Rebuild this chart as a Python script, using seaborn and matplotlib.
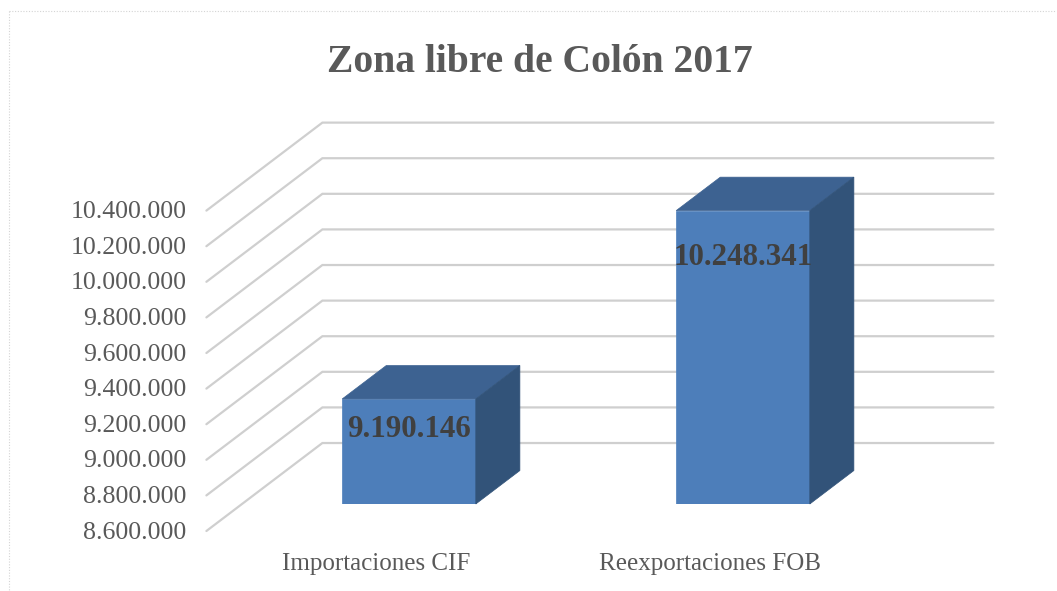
# import libraries
import pandas as pd
import seaborn as sns
import matplotlib.pyplot as plt
from matplotlib.lines import Line2D
from matplotlib.patches import Polygon
from matplotlib.transforms import ScaledTranslation

# Data
categorias = ['Importaciones CIF', 'Reexportaciones FOB']
valores = [9190146, 10248341]
ticks = [8600000, 8800000, 9000000, 9200000, 9400000, 9600000, 9800000, 10000000, 10200000, 10400000]
titulo = 'Zona libre de Colón 2017'

df = pd.DataFrame({'categoria': categorias, 'valor': valores})


def miles(v):
    return f'{v:,}'.replace(',', '.')


W, H = 1057, 591
sns.set_theme(style='white')
plt.rcParams['font.family'] = ['Liberation Serif']

fig = plt.figure(figsize=(W / 100, H / 100), dpi=100)
ax = fig.add_axes([242 / W, 1 - 504 / H, 668 / W, 320.4 / H])

# Front faces of the bars
sns.barplot(data=df, x='categoria', y='valor', color='#4D7EBA', saturation=1,
            width=0.4, ax=ax, zorder=3, edgecolor='#4D7EBA', linewidth=0.5)
ax.set_xlim(-0.5, 1.5)
ax.set_ylim(ticks[0], ticks[-1])
ax.set_xlabel('')
ax.set_ylabel('')
sns.despine(ax=ax, left=True, bottom=True)

# Fake 3D depth: one unit of depth in data units
px_x = 2 / 668
px_y = (ticks[-1] - ticks[0]) / 320.4
depth_x = 116 * px_x
depth_y = 88 * px_y
d_front, d_back = -0.307, 0.693
d_bar = 0.38

# Floor/wall gridlines
for t in ticks:
    xs = [-0.5 + d_front * depth_x, -0.5 + d_back * depth_x, 1.5 + d_back * depth_x + 3 * px_x]
    ys = [t + d_front * depth_y, t + d_back * depth_y, t + d_back * depth_y]
    ax.plot(xs, ys, color='#CFCFCF', lw=1.6, clip_on=False, zorder=1,
            solid_joinstyle='miter')

# Top and side of each bar
for bar, v in zip(ax.patches, valores):
    x0, x1 = bar.get_x(), bar.get_x() + bar.get_width()
    dx, dy = d_bar * depth_x, d_bar * depth_y
    ax.add_patch(Polygon([(x0, v), (x1, v), (x1 + dx, v + dy), (x0 + dx, v + dy)],
                         closed=True, fc='#3D6291', ec='#3D6291', lw=0.5, clip_on=False, zorder=3))
    ax.add_patch(Polygon([(x1, ticks[0]), (x1 + dx, ticks[0] + dy), (x1 + dx, v + dy), (x1, v)],
                         closed=True, fc='#325379', ec='#325379', lw=0.5, clip_on=False, zorder=3))

# Data labels
label_offsets = [-31, -47]
for i, v in enumerate(valores):
    ax.annotate(miles(v), (i, v), xytext=(0, label_offsets[i] * 0.72), textcoords='offset points',
                ha='center', va='center', fontsize=22.3, fontweight='bold', color='#404040',
                zorder=5, annotation_clip=False)

# Tick labels sit on the front edge of the floor
ax.set_yticks(ticks)
ax.set_yticklabels([miles(t) for t in ticks], fontsize=18.6, color='#595959')
ax.tick_params(axis='y', length=0, pad=40)
ax.tick_params(axis='x', length=0, pad=0)
ax.set_xticks(range(len(categorias)))
ax.set_xticklabels(categorias, fontsize=18, color='#595959')
for lab in ax.get_yticklabels():
    lab.set_transform(lab.get_transform() + ScaledTranslation(0, -26 / 100, fig.dpi_scale_trans))
for lab in ax.get_xticklabels():
    lab.set_transform(lab.get_transform() + ScaledTranslation(-33 / 100, -49 / 100, fig.dpi_scale_trans))

fig.text(540 / W, 1 - 62 / H, titulo, ha='center', va='center', fontsize=28.5,
         fontweight='bold', color='#595959')

# Dotted chart border, only the top and left edges show
for xs, ys in [([9 / W, 1055 / W], [1 - 10.5 / H, 1 - 10.5 / H]), ([9 / W, 9 / W], [1 - 10.5 / H, 0])]:
    fig.add_artist(Line2D(xs, ys, transform=fig.transFigure, color='#D4D4D4', lw=0.8, ls=(0, (1, 1.5))))

fig.savefig('out.png', dpi=100)
